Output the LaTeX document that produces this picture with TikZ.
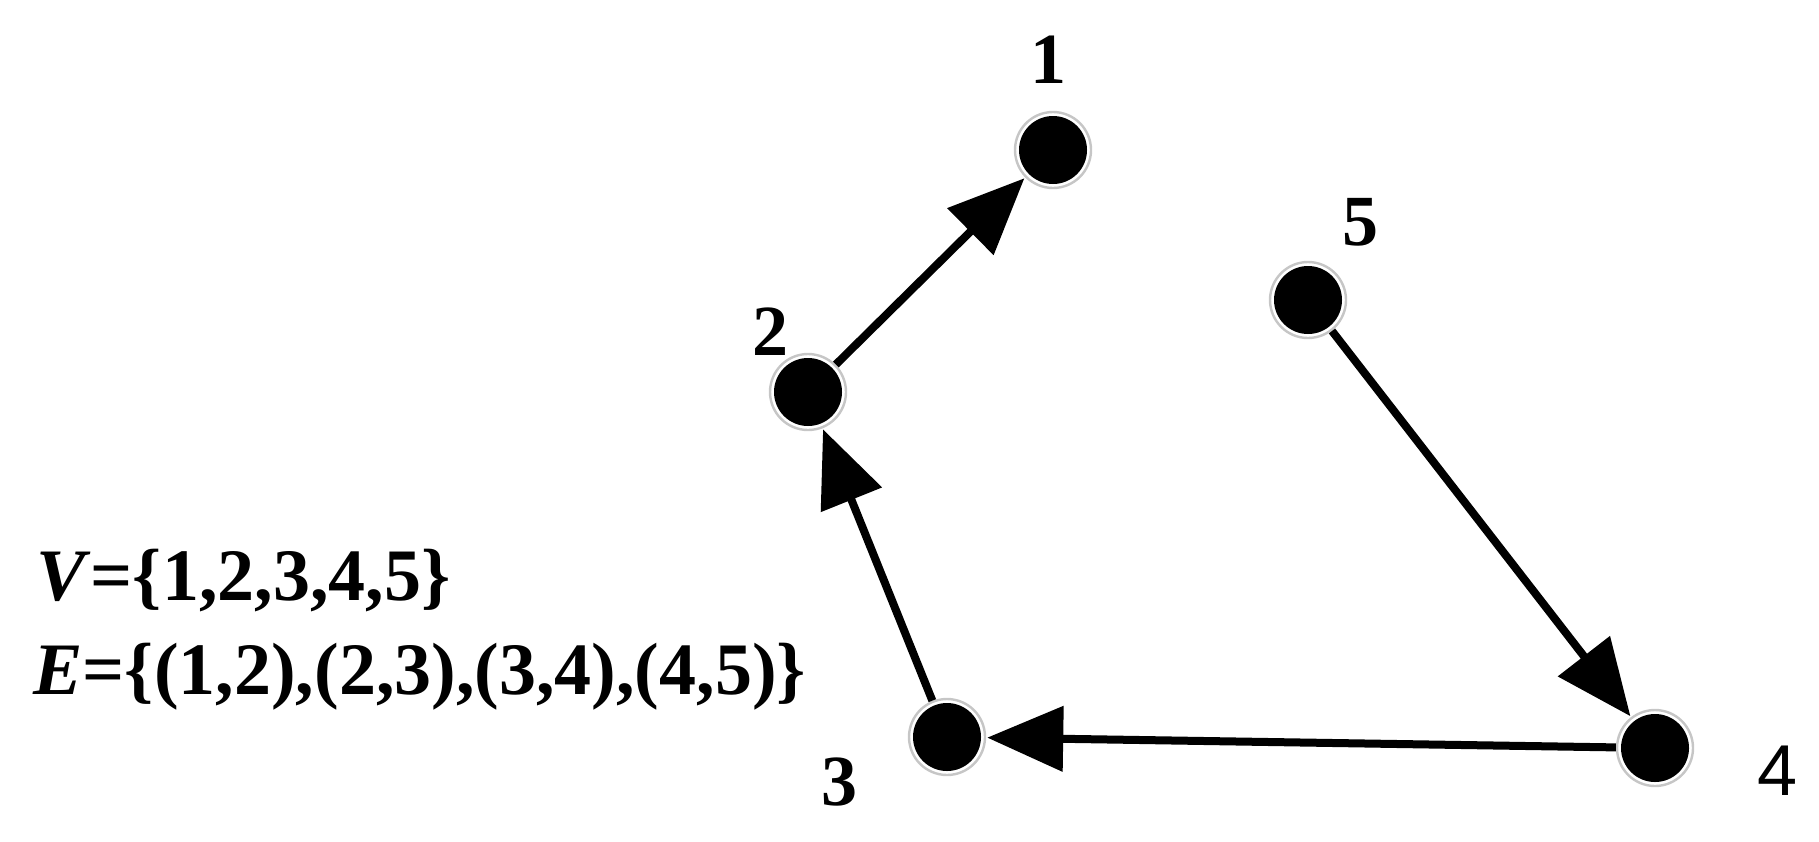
\documentclass[tikz,border=0pt]{standalone}
\usepackage{fontspec}
\setmainfont{Liberation Serif}
\newfontfamily\labsans{Liberation Sans}
\usetikzlibrary{arrows.meta}
\begin{document}
\begin{tikzpicture}[x=0.5pt,y=-0.5pt,
  vertex/.style={circle, minimum size=38pt, inner sep=0pt, draw=gray!45, line width=1.2pt, fill=white,
    path picture={\fill[black] (path picture bounding box.center) circle (17pt);}},
  edge/.style={line width=4pt, -{Triangle[length=38pt,width=32pt]}, shorten >=0.5pt, shorten <=0pt},
  lab/.style={anchor=base, inner sep=0pt, font=\fontsize{36}{36}\selectfont\bfseries},
  setline/.style={anchor=base west, inner sep=0pt, font=\fontsize{37}{37}\selectfont\bfseries}]
\useasboundingbox (0,0) rectangle (1819,841);
% vertices
\node[vertex] (n1) at (1053,150) {};
\node[vertex] (n2) at (808,392) {};
\node[vertex] (n3) at (947,737) {};
\node[vertex] (n4) at (1655,748) {};
\node[vertex] (n5) at (1308,300) {};
% labels
\node[lab] (l1) at (1048,83) {1};
\node[lab] (l2) at (770,355) {2};
\node[lab] (l3) at (839,805) {3};
\node[lab, font=\fontsize{36}{36}\selectfont\labsans] (l4) at (1777,795) {4};
\node[lab] (l5) at (1360,245) {5};
% edges
\draw[edge] (n2) -- (n1);
\draw[edge] (n3) -- (n2);
\draw[edge] (n4) -- (n3);
\draw[edge] (n5) -- (n4);
% sets
\node[setline] (vset) at (36,600) {\textit{V}=\{1,2,3,4,5\}};
\node[setline] (eset) at (33,694) {\textit{E}=\{(1,2),(2,3),(3,4),(4,5)\}};
\end{tikzpicture}
\end{document}
